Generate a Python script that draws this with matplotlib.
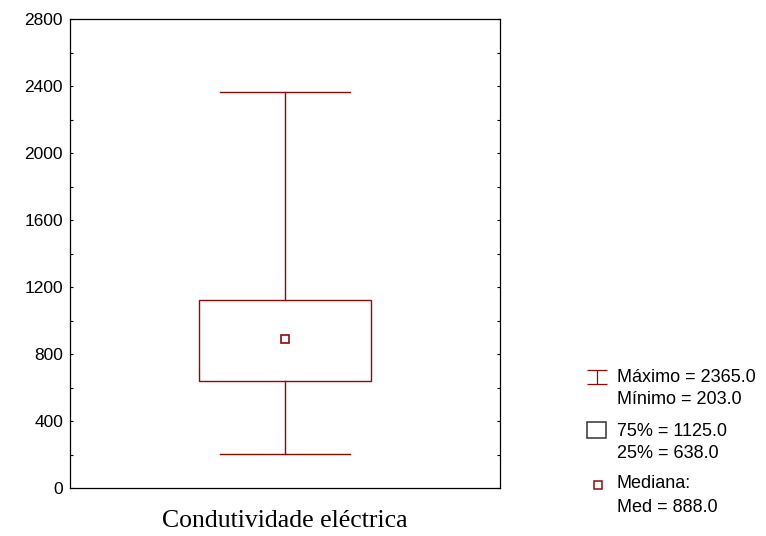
import matplotlib
matplotlib.use("Agg")
import matplotlib.pyplot as plt
import matplotlib.path as mpath
from matplotlib.lines import Line2D
from matplotlib.patches import Rectangle
from matplotlib.ticker import MultipleLocator

# summary values of the box plot
variable = "Condutividade eléctrica"
maximo = 2365.0
minimo = 203.0
q75 = 1125.0
q25 = 638.0
mediana = 888.0

yticks = [0, 400, 800, 1200, 1600, 2000, 2400, 2800]

RED = "#8b0a0a"

plt.rcParams['font.family'] = ['Liberation Sans', 'DejaVu Sans']

fig = plt.figure(figsize=(7.66, 5.36), dpi=100)
ax = fig.add_axes([70 / 766, 1 - 488 / 536, 430 / 766, 469 / 536])

x0 = 0.0
box_hw = 0.4
cap_hw = 0.303

# whiskers
ax.plot([x0, x0], [minimo, q25], color=RED, lw=1.0)
ax.plot([x0, x0], [q75, maximo], color=RED, lw=1.0)
ax.plot([x0 - cap_hw, x0 + cap_hw], [maximo, maximo], color=RED, lw=1.0)
ax.plot([x0 - cap_hw, x0 + cap_hw], [minimo, minimo], color=RED, lw=1.0)
# box
ax.add_patch(Rectangle((x0 - box_hw, q25), 2 * box_hw, q75 - q25,
                       fill=False, edgecolor=RED, lw=1.0))
# median
ax.plot([x0], [mediana], marker="s", ms=5.5, mfc="white", mec=RED, mew=1.2)

ax.set_xlim(-1, 1)
ax.set_ylim(0, 2800)
ax.set_yticks(yticks)
ax.yaxis.set_minor_locator(MultipleLocator(200))
ax.set_xticks([])
ax.tick_params(axis="y", which="both", direction="in", left=True, right=True,
               length=2.5, width=0.8, labelsize=12.5, pad=5)
for s in ax.spines.values():
    s.set_linewidth(0.9)

ax.set_xlabel(variable, family=["Liberation Serif", "DejaVu Serif"], fontsize=18.5, labelpad=16)

# legend, drawn at the right of the figure
def fy(py):
    return 1 - py / 536

ibeam = mpath.Path([(-1, 0.7), (1, 0.7), (0, 0.7), (0, -0.7), (-1, -0.7), (1, -0.7)],
                   [1, 2, 1, 2, 1, 2])
fig.add_artist(Line2D([596.5 / 766], [fy(376.5)], marker=ibeam, ms=14, color=RED,
                      mew=0.9, transform=fig.transFigure))
fig.add_artist(Rectangle((587 / 766, fy(438)), 19 / 766, 16 / 536, fill=False,
                         edgecolor="#333333", lw=1.1, transform=fig.transFigure))
fig.add_artist(Line2D([597.5 / 766], [fy(485)], marker="s", ms=5.5, mfc="white",
                      mec=RED, mew=1.1, transform=fig.transFigure))

lx = 617 / 766
legend_lines = [
    (377, f"Máximo = {maximo:.1f}"),
    (400, f"Mínimo = {minimo:.1f}"),
    (431, f"75% = {q75:.1f}"),
    (454, f"25% = {q25:.1f}"),
    (483, "Mediana:"),
    (507, f"Med = {mediana:.1f}"),
]
for py, txt in legend_lines:
    fig.text(lx, fy(py), txt, fontsize=13, va="center", ha="left")

fig.savefig("out.png", dpi=100)
